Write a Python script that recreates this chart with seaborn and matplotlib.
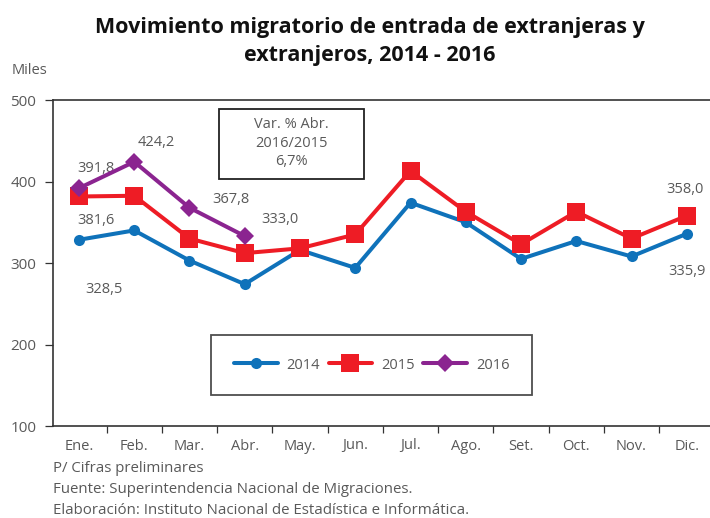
import matplotlib
matplotlib.use("Agg")
import matplotlib.pyplot as plt
import seaborn as sns
import pandas as pd
from matplotlib.lines import Line2D
from matplotlib.patches import Rectangle

# Monthly entries of foreign nationals (thousands)
meses = ["Ene.", "Feb.", "Mar.", "Abr.", "May.", "Jun.",
         "Jul.", "Ago.", "Set.", "Oct.", "Nov.", "Dic."]
v2014 = [328.5, 340.0, 303.0, 274.0, 316.0, 294.0,
         374.0, 350.0, 305.0, 327.0, 308.0, 335.9]
v2015 = [381.6, 382.5, 330.0, 312.1, 318.0, 335.0,
         413.0, 363.0, 323.0, 363.0, 330.0, 358.0]
v2016 = [391.8, 424.2, 367.8, 333.0]
y_ticks = [100, 200, 300, 400, 500]

sns.set_theme(style="white")
plt.rcParams["font.family"] = ["Open Sans", "DejaVu Sans"]

GRAY = "#595959"
C14, C15, C16 = "#0F72BA", "#EE1C25", "#8B2490"
LW = 2.9

fig = plt.figure(figsize=(7.10, 5.18), dpi=100)
ax = fig.add_axes([53 / 710, (518 - 426) / 518, 657 / 710, 326 / 518])

df14 = pd.DataFrame({"x": range(len(v2014)), "v": v2014})
df15 = pd.DataFrame({"x": range(len(v2015)), "v": v2015})
df16 = pd.DataFrame({"x": range(len(v2016)), "v": v2016})

sns.lineplot(data=df14, x="x", y="v", ax=ax, color=C14, lw=LW,
             marker="o", markersize=8, markeredgewidth=0, zorder=3)
sns.lineplot(data=df15, x="x", y="v", ax=ax, color=C15, lw=LW,
             marker="s", markersize=12.5, markeredgewidth=0, zorder=4)
sns.lineplot(data=df16, x="x", y="v", ax=ax, color=C16, lw=LW,
             marker="D", markersize=9.5, markeredgewidth=0, zorder=5)

ax.set_xlim(-0.47, 11.42)
ax.set_ylim(100, 500)
ax.set_yticks(y_ticks)
ax.set_yticklabels([str(t) for t in y_ticks])
ax.set_xticks(range(len(meses)))
ax.set_xticklabels(meses)
ax.set_xticks([i + 0.5 for i in range(len(meses) - 1)], minor=True)
ax.tick_params(axis="x", which="major", length=0, pad=9,
               labelsize=10.5, labelcolor=GRAY)
ax.tick_params(axis="x", which="minor", length=5, width=0.9,
               color="#333333", direction="out", bottom=True)
ax.tick_params(axis="y", length=6, width=0.9, color="#333333",
               direction="out", left=True, pad=6,
               labelsize=11, labelcolor=GRAY)
ax.set_xlabel("")
ax.set_ylabel("")
for side in ["left", "top", "bottom"]:
    ax.spines[side].set_color("#333333")
    ax.spines[side].set_linewidth(1.2)
ax.spines["right"].set_visible(False)
ax.grid(False)

# Value labels
lab_kw = dict(textcoords="offset points", ha="center", va="center",
              fontsize=10.5, color=GRAY)
ax.annotate("391,8", (0, v2016[0]), xytext=(12, 14), **lab_kw)
ax.annotate("424,2", (1, v2016[1]), xytext=(16, 14), **lab_kw)
ax.annotate("367,8", (2, v2016[2]), xytext=(30, 6), **lab_kw)
ax.annotate("333,0", (3, v2016[3]), xytext=(25, 12), **lab_kw)
ax.annotate("381,6", (0, v2015[0]), xytext=(12, -17), **lab_kw)
ax.annotate("328,5", (0, v2014[0]), xytext=(18, -36), **lab_kw)
ax.annotate("358,0", (11, v2015[11]), xytext=(-1, 19), **lab_kw)
ax.annotate("335,9", (11, v2014[11]), xytext=(0, -27), **lab_kw)

# Variation box
bx0, bx1, by0, by1 = 219, 364, 109, 179
ax.add_patch(Rectangle(((bx0 - 53) / 657, (426 - by1) / 326),
                       (bx1 - bx0) / 657, (by1 - by0) / 326,
                       transform=ax.transAxes, fc="white", ec="#222222",
                       lw=1.3, zorder=6))
ax.text((291 - 53) / 657, (426 - 143) / 326,
        "Var. % Abr.\n2016/2015\n6,7%", transform=ax.transAxes,
        ha="center", va="center", fontsize=10.5, color=GRAY,
        linespacing=1.3, zorder=7)

# Legend
handles = [
    Line2D([], [], color=C14, lw=LW, marker="o", markersize=8,
           markeredgewidth=0),
    Line2D([], [], color=C15, lw=LW, marker="s", markersize=12.5,
           markeredgewidth=0),
    Line2D([], [], color=C16, lw=LW, marker="D", markersize=9.5,
           markeredgewidth=0),
]
leg = ax.legend(handles, ["2014", "2015", "2016"], ncol=3,
                loc="center", bbox_to_anchor=(0.485, 0.187),
                frameon=True, fancybox=False, fontsize=10.5,
                handlelength=3.0, handletextpad=0.6, columnspacing=0.6,
                borderpad=1.55, labelcolor=GRAY)
leg.get_frame().set_edgecolor("#222222")
leg.get_frame().set_linewidth(1.3)

# Titles and notes
fig.text(0.521, 1 - 27 / 518,
         "Movimiento migratorio de entrada de extranjeras y",
         ha="center", va="center", fontsize=15.5, fontweight="bold",
         color="#111111")
fig.text(0.521, 1 - 55 / 518, "extranjeros, 2014 - 2016",
         ha="center", va="center", fontsize=15.5, fontweight="bold",
         color="#111111")
fig.text(12 / 710, 1 - 70 / 518, "Miles", ha="left", va="center",
         fontsize=10.5, color=GRAY)
notes = ["P/ Cifras preliminares",
         "Fuente: Superintendencia Nacional de Migraciones.",
         "Elaboración: Instituto Nacional de Estadística e Informática."]
for i, n in enumerate(notes):
    fig.text(53 / 710, 1 - (468 + 21.5 * i) / 518, n, ha="left",
             va="center", fontsize=10.8, color=GRAY)

fig.savefig("out.png", dpi=100)
